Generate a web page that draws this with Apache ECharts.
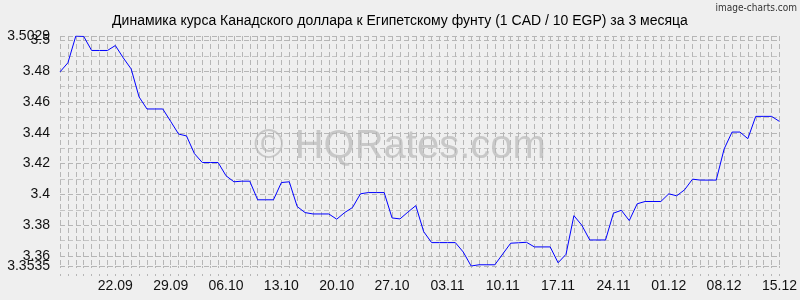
<!DOCTYPE html>
<html>
<head>
<meta charset="utf-8">
<script src="https://cdn.jsdelivr.net/npm/echarts@6/dist/echarts.min.js"></script>
<style>
html,body{margin:0;padding:0;background:#efefef;}
#chart{width:800px;height:300px;}
</style>
</head>
<body>
<div id="chart"></div>
<script>
var titleText = 'Динамика курса Канадского доллара к Египетскому фунту (1 CAD / 10 EGP) за 3 месяца';
var watermark = '© HQRates.com';
var credit = 'image-charts.com';

var dates = [
 '15.09','16.09','17.09','18.09','19.09','20.09','21.09','22.09','23.09','24.09','25.09','26.09','27.09','28.09','29.09','30.09',
 '01.10','02.10','03.10','04.10','05.10','06.10','07.10','08.10','09.10','10.10','11.10','12.10','13.10','14.10','15.10','16.10',
 '17.10','18.10','19.10','20.10','21.10','22.10','23.10','24.10','25.10','26.10','27.10','28.10','29.10','30.10','31.10',
 '01.11','02.11','03.11','04.11','05.11','06.11','07.11','08.11','09.11','10.11','11.11','12.11','13.11','14.11','15.11','16.11',
 '17.11','18.11','19.11','20.11','21.11','22.11','23.11','24.11','25.11','26.11','27.11','28.11','29.11','30.11',
 '01.12','02.12','03.12','04.12','05.12','06.12','07.12','08.12','09.12','10.12','11.12','12.12','13.12','14.12','15.12'
];

var rates = [
 3.4796, 3.4855, 3.5029, 3.5026, 3.4935, 3.4935, 3.4935, 3.4967, 3.4887, 3.4815,
 3.4633, 3.4555, 3.4555, 3.4555, 3.4474, 3.4392, 3.4380, 3.4265, 3.4207, 3.4207,
 3.4207, 3.4121, 3.4082, 3.4086, 3.4086, 3.3965, 3.3965, 3.3965, 3.4077, 3.4082,
 3.3921, 3.3882, 3.3873, 3.3873, 3.3873, 3.3839, 3.3882, 3.3915, 3.4004, 3.4012,
 3.4012, 3.4012, 3.3847, 3.3841, 3.3885, 3.3927, 3.3758, 3.3687, 3.3687, 3.3687,
 3.3687, 3.3626, 3.3535, 3.3543, 3.3543, 3.3543, 3.3613, 3.3683, 3.3686, 3.3689,
 3.3659, 3.3659, 3.3659, 3.3556, 3.3611, 3.3862, 3.3800, 3.3704, 3.3704, 3.3704,
 3.3878, 3.3897, 3.3830, 3.3939, 3.3954, 3.3954, 3.3954, 3.4004, 3.3991, 3.4030,
 3.4099, 3.4093, 3.4093, 3.4093, 3.4295, 3.4405, 3.4405, 3.4362, 3.4507, 3.4507,
 3.4507, 3.4474
];

var xTickLabels = ['22.09','29.09','06.10','13.10','20.10','27.10','03.11','10.11','17.11','24.11','01.12','08.12','15.12'];
var yMin = 3.3535;
var yMax = 3.5029;
var yEdgeLabels = ['3.3535', '3.5029'];

var gridColor = '#b6b6b6';
var labelFont = {color: '#111', fontSize: 14, fontFamily: 'Liberation Sans, Arial, sans-serif', margin: 10};
function fmt(v) { return String(+v.toFixed(4)); }

var chart = echarts.init(document.getElementById('chart'), null, {renderer: 'canvas'});
chart.setOption({
  backgroundColor: '#efefef',
  animation: false,
  title: {
    text: titleText,
    left: 'center',
    top: 9,
    textStyle: {fontFamily: 'Liberation Sans, Arial, sans-serif', fontSize: 14, fontWeight: 'normal', color: '#000'}
  },
  graphic: [
    {type: 'text', right: 3, top: 3, style: {text: credit, fontFamily: 'DejaVu Sans Condensed, Liberation Sans Narrow, sans-serif', fontSize: 10, fill: '#333'}},
    {type: 'text', left: 'center', top: 127, z: 0, style: {text: watermark, fontFamily: 'Liberation Sans, Arial, sans-serif', fontSize: 40, fill: '#c8c8c8'}}
  ],
  grid: {left: 60, right: 20, top: 36, bottom: 34, containLabel: false},
  xAxis: {
    type: 'category',
    data: dates,
    boundaryGap: false,
    axisLine: {show: false},
    axisTick: {show: true, interval: 0, length: 10, lineStyle: {color: gridColor, type: [2, 6]}},
    axisLabel: {
      interval: function (idx, val) { return xTickLabels.indexOf(val) >= 0; },
      color: '#111', fontSize: 14, fontFamily: 'Liberation Sans, Arial, sans-serif', margin: 13
    },
    splitLine: {show: true, interval: 0, lineStyle: {color: gridColor, type: [5, 3], width: 1, opacity: 1}}
  },
  yAxis: [
    {
      type: 'value', min: yMin, max: yMax, splitNumber: 7, position: 'left',
      axisLine: {show: false}, axisTick: {show: false},
      axisLabel: Object.assign({
        showMinLabel: true, showMaxLabel: true,
        formatter: function (v) { var s = fmt(v); return yEdgeLabels.indexOf(s) >= 0 ? s : ''; }
      }, labelFont),
      splitLine: {show: true, lineStyle: {color: gridColor, type: [5, 3], width: 1, opacity: 1}},
      minorTick: {show: false, splitNumber: 2},
      minorSplitLine: {show: true, lineStyle: {color: '#c4c4c4', type: [5, 3], width: 1}}
    },
    {
      type: 'value', min: yMin, max: yMax, splitNumber: 7, position: 'left', offset: 0,
      axisLine: {show: false}, axisTick: {show: false},
      axisLabel: Object.assign({
        showMinLabel: false, showMaxLabel: false,
        formatter: function (v) { var s = fmt(v); return yEdgeLabels.indexOf(s) >= 0 ? '' : s; }
      }, labelFont),
      splitLine: {show: false}
    }
  ],
  series: [{
    type: 'line',
    data: rates,
    yAxisIndex: 0,
    showSymbol: false,
    symbol: 'none',
    lineStyle: {color: '#0000ff', width: 1},
    z: 3
  }]
});
</script>
</body>
</html>
